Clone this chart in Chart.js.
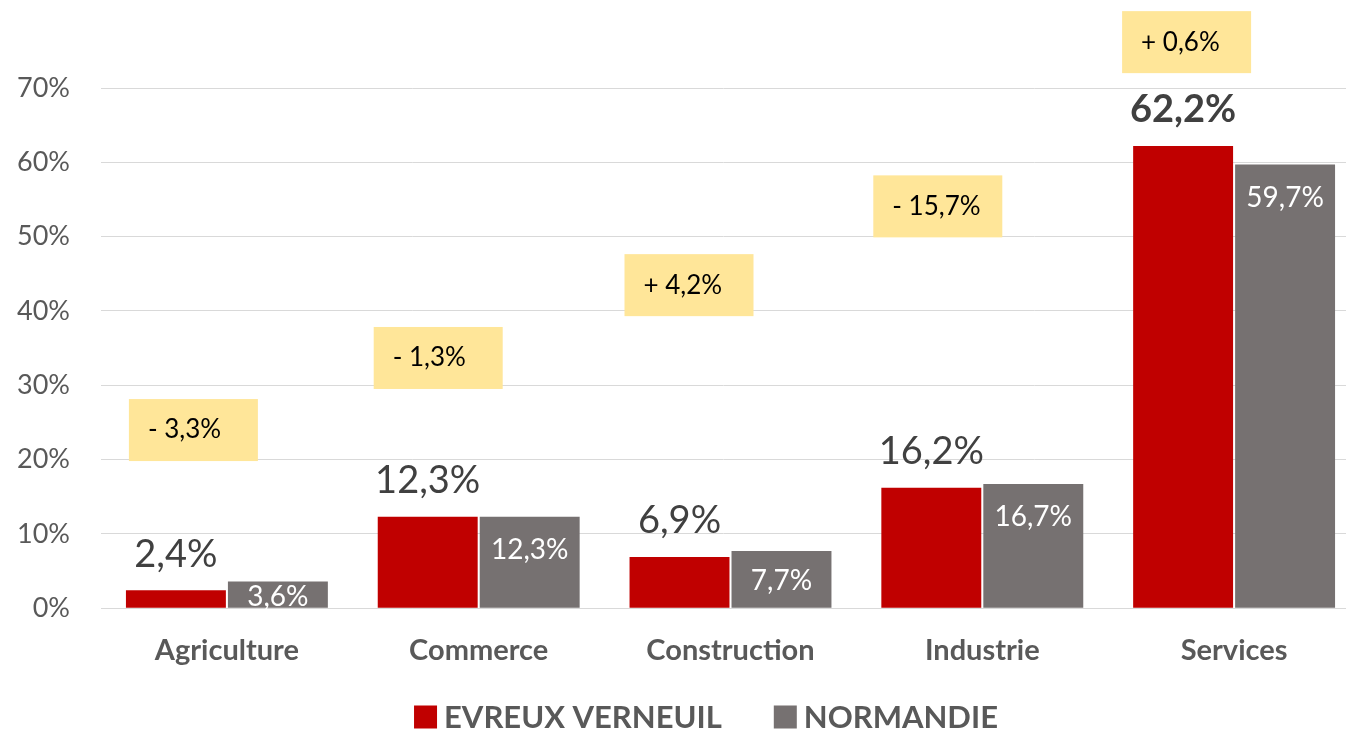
<!DOCTYPE html>
<html>
<head>
<meta charset="utf-8">
<script src="https://cdn.jsdelivr.net/npm/chart.js@4.4.0/dist/chart.umd.min.js"></script>
<style>
  html, body { margin: 0; padding: 0; background: #fff; }
  #wrap { width: 1346px; height: 730px; position: relative; }
</style>
</head>
<body>
<div id="wrap"><canvas id="chart"></canvas></div>
<script>
// Data
const categories = ['Agriculture', 'Commerce', 'Construction', 'Industrie', 'Services'];
const evreuxValues = [2.4, 12.3, 6.9, 16.2, 62.2];
const normandieValues = [3.6, 12.3, 7.7, 16.7, 59.7];
const evolutionLabels = ['- 3,3%', '- 1,3%', '+ 4,2%', '- 15,7%', '+ 0,6%'];
const seriesNames = ['EVREUX VERNEUIL', 'NORMANDIE'];

const RED = '#C00000';
const GREY = '#767171';
const FONT = 'Lato, "Open Sans", sans-serif';

const fmt = v => v.toFixed(1).replace('.', ',') + '%';

// the category axis runs a bit past the right edge of the canvas in the original
const widenPlugin = {
    id: 'widenX',
    afterLayout(chart, args, opts) {
        const x = chart.scales.x;
        x.right = x.right + opts.extra;
        x.width = x.right - x.left;
        x.configure();
    }
};

// yellow "evolution" boxes, value labels and the legend, drawn on the canvas
const labelsPlugin = {
    id: 'valueLabels',
    afterDatasetsDraw(chart, args, opts) {
        const ctx = chart.ctx;
        const x = chart.scales.x;
        const y = chart.scales.y;
        ctx.save();

        // yellow boxes (hand placed in the original)
        categories.forEach((c, i) => {
            const cx = x.getPixelForValue(i);
            const bottom = y.getPixelForValue(opts.boxBottoms[i]);
            const left = cx + opts.boxShift[i];
            ctx.fillStyle = '#FFE699';
            ctx.fillRect(left, bottom - 62, 129, 62);
            ctx.fillStyle = '#000';
            ctx.font = '26px ' + FONT;
            ctx.textAlign = 'left';
            ctx.textBaseline = 'middle';
            ctx.fillText(evolutionLabels[i], left + 19, bottom - 31);
        });

        // red series labels above the bars
        const redMeta = chart.getDatasetMeta(0);
        redMeta.data.forEach((bar, i) => {
            const last = i === categories.length - 1;
            ctx.fillStyle = '#404040';
            ctx.font = (last ? 'bold ' : '') + '38px ' + FONT;
            ctx.textAlign = 'center';
            ctx.textBaseline = 'middle';
            ctx.fillText(fmt(evreuxValues[i]), bar.x, bar.y - 36);
        });

        // grey series labels inside the bars
        const greyMeta = chart.getDatasetMeta(1);
        greyMeta.data.forEach((bar, i) => {
            const h = bar.base - bar.y;
            const ty = h > 66 ? bar.y + 33 : (bar.y + bar.base) / 2 + 2;
            ctx.fillStyle = '#fff';
            ctx.font = '28px ' + FONT;
            ctx.textAlign = 'center';
            ctx.textBaseline = 'middle';
            ctx.fillText(fmt(normandieValues[i]), bar.x, ty);
        });

        // legend
        ctx.font = 'bold 31px ' + FONT;
        ctx.textBaseline = 'middle';
        ctx.textAlign = 'left';
        const items = chart.data.datasets.map(ds => ({
            color: ds.backgroundColor,
            text: ds.label,
            w: ctx.measureText(ds.label).width
        }));
        const box = 23, gap = 7, between = 52;
        const total = items.reduce((s, it) => s + box + gap + it.w, 0) + between * (items.length - 1);
        let lx = opts.legendCenter - total / 2;
        const ly = opts.legendY;
        items.forEach(it => {
            ctx.fillStyle = it.color;
            ctx.fillRect(lx, ly - box / 2, box, box);
            lx += box + gap;
            ctx.fillStyle = '#595959';
            ctx.fillText(it.text, lx, ly + 1);
            lx += it.w + between;
        });

        ctx.restore();
    }
};

new Chart(document.getElementById('chart'), {
    type: 'bar',
    data: {
        labels: categories,
        datasets: [
            {
                label: seriesNames[0],
                data: evreuxValues,
                backgroundColor: RED,
                barPercentage: 0.98,
                categoryPercentage: 0.81,
            },
            {
                label: seriesNames[1],
                data: normandieValues,
                backgroundColor: GREY,
                barPercentage: 0.98,
                categoryPercentage: 0.81,
            }
        ]
    },
    plugins: [widenPlugin, labelsPlugin],
    options: {
        responsive: true,
        maintainAspectRatio: false,
        animation: false,
        layout: {
            padding: { top: 88, left: 0, right: 0, bottom: 45 }
        },
        plugins: {
            legend: { display: false },
            tooltip: { enabled: false },
            widenX: { extra: 14 },
            valueLabels: {
                boxBottoms: [19.8, 29.5, 39.3, 49.9, 72.0],
                boxShift: [-98, -105, -106, -109, -112],
                legendCenter: 706,
                legendY: 717
            }
        },
        scales: {
            x: {
                grid: { display: false },
                border: { display: true, color: '#D9D9D9', width: 1 },
                ticks: {
                    color: '#595959',
                    padding: 17,
                    font: { family: FONT, size: 29, weight: 'bold' }
                }
            },
            y: {
                min: 0,
                max: 70,
                afterFit: scale => { scale.width = 101; },
                grid: {
                    color: '#D9D9D9',
                    drawTicks: false
                },
                border: { display: false },
                ticks: {
                    stepSize: 10,
                    padding: 31,
                    color: '#595959',
                    font: { family: FONT, size: 27 },
                    callback: v => v + '%'
                }
            }
        }
    }
});
</script>
</body>
</html>
